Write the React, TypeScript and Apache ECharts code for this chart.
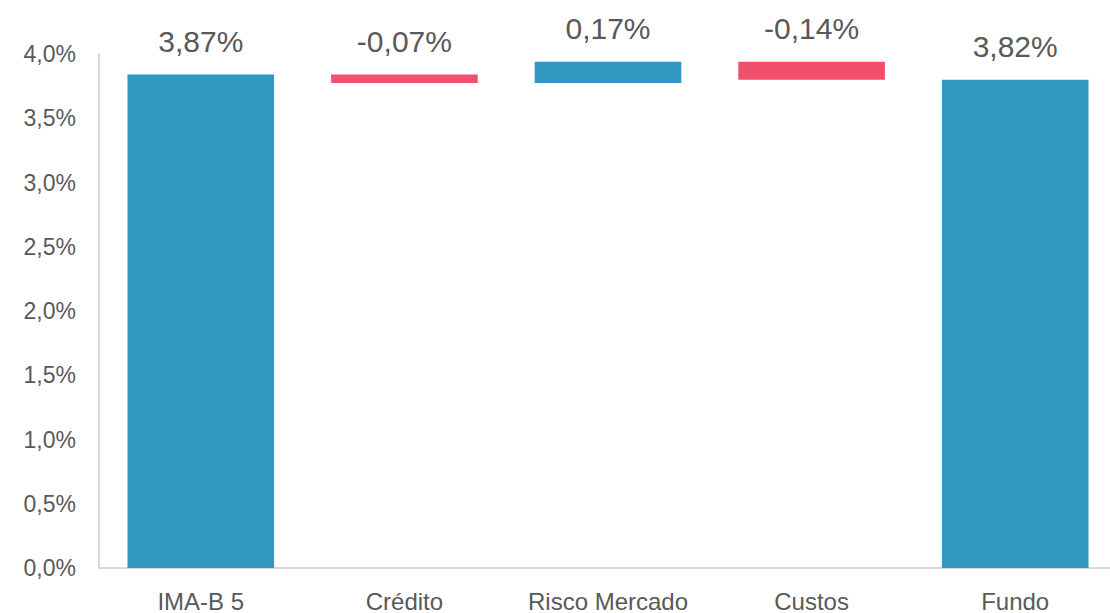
import React, { useEffect, useRef } from "react";
import * as echarts from "echarts";

const categories = ["IMA-B 5", "Crédito", "Risco Mercado", "Custos", "Fundo"];
// bar geometry (in %)
const startValue = 3.84;
const deltas = [-0.065, 0.165, -0.14];
const endValue = 3.8;
// printed value labels
const valueLabels = ["3,87%", "-0,07%", "0,17%", "-0,14%", "3,82%"];

const BLUE = "#3097C1";
const RED = "#F0506E";
const TEXT = "#595959";
const FONT = "'Liberation Sans', Arial, sans-serif";

export default function App() {
  const ref = useRef<HTMLDivElement>(null);
  useEffect(() => {
    if (!ref.current) return;
    const chart = echarts.init(ref.current, undefined, { renderer: "svg" });

    const base: number[] = [0];
    const heights: number[] = [startValue];
    const colors: string[] = [BLUE];
    let running = startValue;
    deltas.forEach((d) => {
      const next = running + d;
      base.push(Math.min(running, next));
      heights.push(Math.abs(d));
      colors.push(d >= 0 ? BLUE : RED);
      running = next;
    });
    base.push(0);
    heights.push(endValue);
    colors.push(BLUE);

    chart.setOption({
      animation: false,
      textStyle: { fontFamily: FONT },
      grid: { left: 99, width: 1018, top: 54, bottom: 45, outerBoundsMode: "none", containLabel: false },
      xAxis: {
        type: "category",
        data: categories,
        axisLine: { show: true, lineStyle: { color: "#D9D9D9", width: 2 } },
        axisTick: { show: false },
        axisLabel: { color: TEXT, fontSize: 24, margin: 21, fontFamily: FONT, interval: 0 },
      },
      yAxis: {
        type: "value",
        min: 0,
        max: 4,
        interval: 0.5,
        axisLine: { show: true, lineStyle: { color: "#D9D9D9", width: 2 } },
        axisTick: { show: false },
        splitLine: { show: false },
        axisLabel: {
          color: TEXT,
          fontSize: 23,
          margin: 23,
          fontFamily: FONT,
          formatter: (v: number) => v.toFixed(1).replace(".", ",") + "%",
        },
      },
      series: [
        {
          type: "bar",
          stack: "w",
          data: base,
          itemStyle: { color: "transparent" },
          barWidth: "72%",
          silent: true,
        },
        {
          type: "bar",
          stack: "w",
          barWidth: "72%",
          data: heights.map((h, i) => ({ value: h, itemStyle: { color: colors[i] } })),
          label: {
            show: true,
            position: "top",
            distance: 18,
            color: TEXT,
            fontSize: 30,
            fontFamily: FONT,
            formatter: (p: any) => valueLabels[p.dataIndex],
          },
        },
      ],
    });
    return () => chart.dispose();
  }, []);
  return (
    <div
      ref={ref}
      style={{ position: "absolute", left: 0, top: 0, width: 1110, height: 613, background: "#fff" }}
    />
  );
}
